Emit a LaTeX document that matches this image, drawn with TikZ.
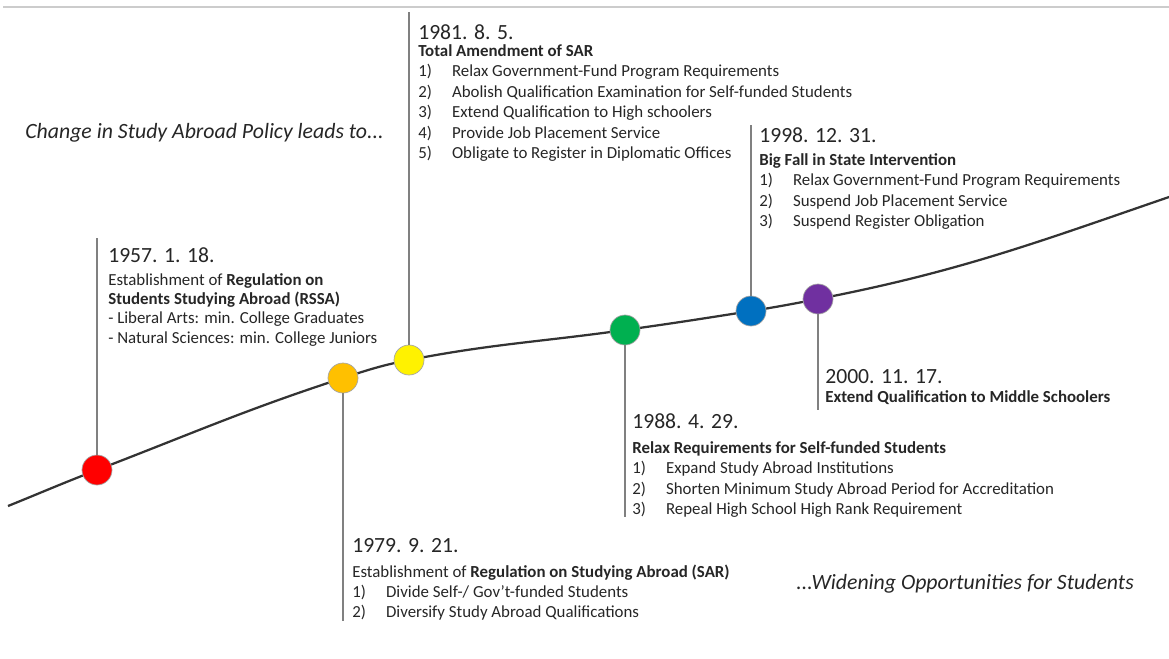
\documentclass[tikz,border=0pt]{standalone}
\usepackage{fontspec}
\setmainfont{Carlito}
\usepackage{tikz}
\usetikzlibrary{positioning,backgrounds}
\newcommand{\itm}[2]{\makebox[24pt][l]{#1}#2}

\begin{document}
\begin{tikzpicture}[x=0.025cm, y=-0.025cm,
	datebox/.style={font=\fontsize{15.4}{18}\selectfont, inner sep=0, anchor=west, text=black!85},
	infobox/.style={font=\fontsize{12}{14.6}\selectfont, inner sep=0, anchor=north west, align=left, text=black!85},
	slogan/.style={font=\fontsize{15.5}{18}\selectfont\itshape, inner sep=0, anchor=west, text=black!85},
	circ/.style={circle, draw=black!35, line width=0.5, minimum size=0.75cm, inner sep=0},
	stem/.style={draw=black!50, line width=1.5},
	timeline/.style={draw=black!80, line width=1.6}
]
\useasboundingbox (0,0) rectangle (1169,658);
\draw[black!20, line width=1] (3,7) -- (1169,7);

\coordinate (start) at (8,506);
\coordinate (finish) at (1169,197);

\node[circ, fill=red] (dot1) at (97,470) {};
\node[circ, fill={rgb,255:red,255;green,192;blue,0}] (dot2) at (343,378) {};
\node[circ, fill=yellow] (dot3) at (409,360) {};
\node[circ, fill={rgb,255:red,0;green,176;blue,80}] (dot4) at (625,330) {};
\node[circ, fill={rgb,255:red,0;green,112;blue,192}] (dot5) at (751,311) {};
\node[circ, fill={rgb,255:red,112;green,48;blue,160}] (dot6) at (818,299) {};

% timeline behind the dots
\begin{pgfonlayer}{background}
\draw[timeline] (start) to[out=22, in=201] (dot1.center)
	to[out=21, in=198] (dot2.center)
	to[out=18, in=191] (dot3.center)
	to[out=11, in=188] (dot4.center)
	to[out=8, in=189] (dot5.center)
	to[out=9, in=191] (dot6.center)
	to[out=11, in=199] (finish);
\end{pgfonlayer}

\coordinate (end1) at (97,238);
\coordinate (end2) at (343,621);
\coordinate (end3) at (409,12);
\coordinate (end4) at (625,517);
\coordinate (end5) at (751,125);
\coordinate (end6) at (818,410);
\foreach \n in {1,...,6}
	\draw[stem] (dot\n) -- (end\n);

% 1957
\node[datebox] (date1) at (108,255) {1957. 1. 18.};
\node[infobox, font=\fontsize{12}{13.8}\selectfont] (info1) at (108,273) {Establishment of \textbf{Regulation on}\\
	\textbf{Students Studying Abroad (RSSA)}\\
	- Liberal Arts: min. College Graduates\\
	- Natural Sciences: min. College Juniors};

% 1979
\node[datebox] (date2) at (352,546) {1979. 9. 21.};
\node[infobox, font=\fontsize{12}{14}\selectfont] (info2) at (352,565) {Establishment of \textbf{Regulation on Studying Abroad (SAR)}\\
	\itm{1)}{Divide Self-/ Gov't-funded Students}\\
	\itm{2)}{Diversify Study Abroad Qualifications}};

% 1981
\node[datebox] (date3) at (418,32) {1981. 8. 5.};
\node[infobox] (info3) at (418,44) {\textbf{Total Amendment of SAR}\\
	\itm{1)}{Relax Government-Fund Program Requirements}\\
	\itm{2)}{Abolish Qualification Examination for Self-funded Students}\\
	\itm{3)}{Extend Qualification to High schoolers}\\
	\itm{4)}{Provide Job Placement Service}\\
	\itm{5)}{Obligate to Register in Diplomatic Offices}};

% 1988
\node[datebox] (date4) at (632,421) {1988. 4. 29.};
\node[infobox] (info4) at (632,441) {\textbf{Relax Requirements for Self-funded Students}\\
	\itm{1)}{Expand Study Abroad Institutions}\\
	\itm{2)}{Shorten Minimum Study Abroad Period for Accreditation}\\
	\itm{3)}{Repeal High School High Rank Requirement}};

% 1998
\node[datebox] (date5) at (759,135) {1998. 12. 31.};
\node[infobox] (info5) at (759,153) {\textbf{Big Fall in State Intervention}\\
	\itm{1)}{Relax Government-Fund Program Requirements}\\
	\itm{2)}{Suspend Job Placement Service}\\
	\itm{3)}{Suspend Register Obligation}};

% 2000
\node[datebox] (date6) at (825,377) {2000. 11. 17.};
\node[infobox] (info6) at (825,390) {\textbf{Extend Qualification to Middle Schoolers}};

\node[slogan] (lead) at (25,133) {Change in Study Abroad Policy leads to...};
\node[slogan] (widen) at (796,584) {...Widening Opportunities for Students};
\end{tikzpicture}
\end{document}
